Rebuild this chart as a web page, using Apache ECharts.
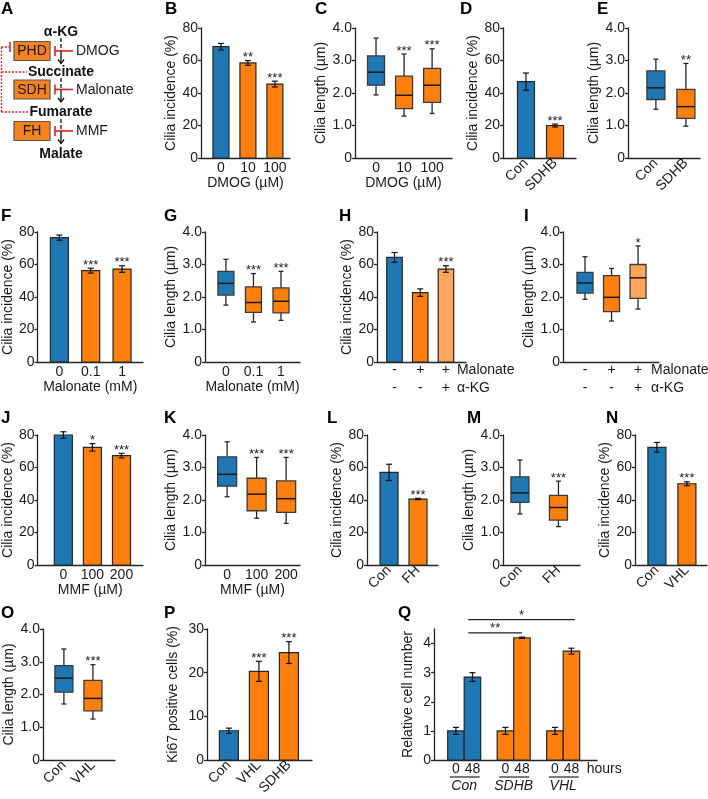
<!DOCTYPE html>
<html><head><meta charset="utf-8">
<script src="https://cdn.jsdelivr.net/npm/echarts@6/dist/echarts.min.js"></script>
<style>html,body{margin:0;padding:0;background:#fff}#c{width:708px;height:799px}</style>
</head><body><div id="c"></div>
<script>
// ---------------- data ----------------
const incidenceTicks = [0, 20, 40, 60, 80];
const lengthTicks = [0, 1, 2, 3, 4];
const ki67Ticks = [0, 10, 20, 30];
const cellTicks = [0, 1, 2, 3, 4];

const dmogDoses = ['0', '10', '100'];
const ciliaIncDMOG = [68.5, 58.5, 45.5];
const ciliaIncDMOGErr = [2.0, 1.5, 1.8];
const ciliaIncDMOGSig = ['', '**', '***'];
const ciliaLenDMOG = [[1.94, 2.24, 2.64, 3.14, 3.69], [1.29, 1.52, 1.93, 2.52, 3.20], [1.37, 1.71, 2.24, 2.76, 3.36]];
const ciliaLenDMOGSig = ['', '***', '***'];

const sdhbGroups = ['Con', 'SDHB'];
const ciliaIncSDHB = [47.0, 20.0];
const ciliaIncSDHBErr = [5.3, 0.9];
const ciliaIncSDHBSig = ['', '***'];
const ciliaLenSDHB = [[1.50, 1.80, 2.16, 2.68, 3.04], [0.98, 1.22, 1.58, 2.11, 2.91]];
const ciliaLenSDHBSig = ['', '**'];

const malonateDoses = ['0', '0.1', '1'];
const ciliaIncMal = [76.5, 56.2, 57.2];
const ciliaIncMalErr = [1.6, 1.5, 2.0];
const ciliaIncMalSig = ['', '***', '***'];
const ciliaLenMal = [[1.75, 2.06, 2.42, 2.79, 3.16], [1.23, 1.53, 1.83, 2.31, 2.72], [1.28, 1.51, 1.87, 2.28, 2.79]];
const ciliaLenMalSig = ['', '***', '***'];

const malonateRow = ['-', '+', '+'];
const akgRow = ['-', '-', '+'];
const ciliaIncRescue = [64.4, 42.7, 57.2];
const ciliaIncRescueErr = [3.0, 2.3, 2.0];
const ciliaIncRescueSig = ['', '', '***'];
const ciliaLenRescue = [[1.93, 2.12, 2.43, 2.76, 3.24], [1.26, 1.55, 1.99, 2.66, 2.88], [1.63, 1.96, 2.59, 3.00, 3.57]];
const ciliaLenRescueSig = ['', '', '*'];

const mmfDoses = ['0', '100', '200'];
const ciliaIncMMF = [80.0, 72.4, 67.3];
const ciliaIncMMFErr = [2.0, 2.3, 1.4];
const ciliaIncMMFSig = ['', '*', '***'];
const ciliaLenMMF = [[2.10, 2.43, 2.79, 3.33, 3.79], [1.44, 1.67, 2.18, 2.67, 3.31], [1.28, 1.62, 2.04, 2.59, 3.31]];
const ciliaLenMMFSig = ['', '***', '***'];

const fhGroups = ['Con', 'FH'];
const ciliaIncFH = [57.0, 40.6];
const ciliaIncFHErr = [5.0, 0.4];
const ciliaIncFHSig = ['', '***'];
const ciliaLenFH = [[1.57, 1.93, 2.22, 2.71, 3.23], [1.18, 1.38, 1.77, 2.14, 2.58]];
const ciliaLenFHSig = ['', '***'];

const vhlGroups = ['Con', 'VHL'];
const ciliaIncVHL = [72.4, 50.0];
const ciliaIncVHLErr = [3.0, 1.2];
const ciliaIncVHLSig = ['', '***'];
const ciliaLenVHL = [[1.71, 2.07, 2.50, 2.88, 3.39], [1.25, 1.50, 1.88, 2.43, 2.91]];
const ciliaLenVHLSig = ['', '***'];

const ki67Groups = ['Con', 'VHL', 'SDHB'];
const ki67Pos = [6.7, 20.3, 24.6];
const ki67Err = [0.6, 2.3, 2.5];
const ki67Sig = ['', '***', '***'];

const cellGroups = ['Con', 'SDHB', 'VHL'];
const cellHours = ['0', '48'];
const cellNum0h = [1.0, 1.0, 1.0];
const cellNum48h = [2.85, 4.2, 3.74];
const cellErr0h = [0.12, 0.12, 0.12];
const cellErr48h = [0.15, 0.02, 0.10];
const cellBrackets = [[0.75, 4.0, 4.37], [0.75, 7.2, 4.82]];
const cellBracketSig = ['**', '*'];

// ---------------- style ----------------
const FONT = 'Liberation Sans, Arial, Helvetica, sans-serif';
const BLUE = '#1f77b4', ORANGE = '#ff7f0e', LIGHT = '#ffa65c';
const AX = '#262626', TXT = '#1a1a1a', EDGE = '#262626', RED = '#e31e24';

// ---------------- layout (pixels) ----------------
const layout = {
  B: {L: 201, R: 290, T: 28, Bt: 158, xMin: -0.74, xMax: 2.56, w: 16, gap: 19, xg: 17},
  C: {L: 355, R: 452, T: 28, Bt: 158, xMin: -0.75, xMax: 2.71, w: 17, gap: 22, xg: 17},
  D: {L: 503, R: 576, T: 28, Bt: 158, xMin: -0.79, xMax: 1.72, w: 17, gap: 19},
  E: {L: 628, R: 700, T: 28, Bt: 158, xMin: -0.93, xMax: 1.47, w: 18, gap: 15},
  F: {L: 37, R: 143, T: 232, Bt: 362, xMin: -0.70, xMax: 2.67, w: 18, gap: 20, xg: 17},
  G: {L: 205, R: 300, T: 232, Bt: 362, xMin: -0.76, xMax: 2.69, w: 16, gap: 25, xg: 17},
  H: {L: 377, R: 466, T: 232, Bt: 362, xMin: -0.68, xMax: 2.78, w: 15.5, gap: 18, xm: 1, tx: 11},
  I: {L: 563, R: 659, T: 232, Bt: 362, xMin: -0.83, xMax: 2.79, w: 16, gap: 23, xm: 1, tx: 13},
  J: {L: 37, R: 143, T: 435, Bt: 565, xMin: -0.89, xMax: 2.74, w: 18, gap: 20, xg: 15},
  K: {L: 205, R: 300, T: 435, Bt: 565, xMin: -0.75, xMax: 2.47, w: 19, gap: 25, xg: 15},
  L: {L: 367, R: 438, T: 435, Bt: 565, xMin: -0.76, xMax: 1.69, w: 18, gap: 20},
  M: {L: 503, R: 580, T: 435, Bt: 565, xMin: -0.44, xMax: 1.56, w: 18, gap: 19},
  N: {L: 635, R: 707, T: 435, Bt: 565, xMin: -0.73, xMax: 1.67, w: 18, gap: 20},
  O: {L: 43, R: 115, T: 629, Bt: 760, xMin: -0.72, xMax: 1.76, w: 18, gap: 26},
  P: {L: 207, R: 312, T: 629, Bt: 760, xMin: -0.73, xMax: 2.77, w: 19, gap: 27},
  Q: {L: 434, R: 597, T: 629, Bt: 760, xMin: -1.33, xMax: 8.55, w: 16.5, gap: 19, xm: 2, yMax: 4.5}
};
const letters = [['A',2,4],['B',166,4],['C',316,4],['D',461,4],['E',598,4],
  ['F',2,211],['G',165,211],['H',340,211],['I',525,211],
  ['J',2,413],['K',165,413],['L',328,413],['M',468,413],['N',607,413],
  ['O',2,608],['P',165,608],['Q',399,608]];

const fmtLen = v => (v === 0 ? '0' : v.toFixed(1));
const fmtInt = v => String(v);
const INC = 'Cilia incidence (%)', LEN = 'Cilia length (\u00b5m)';

const qXs = [], qVals = [], qErrs = [], qCols = [], qLabels = [];
cellGroups.forEach((g, gi) => {
  [cellNum0h[gi], cellNum48h[gi]].forEach((v, t) => {
    qXs.push(gi * 3 + t); qVals.push(v);
    qErrs.push(t === 0 ? cellErr0h[gi] : cellErr48h[gi]);
    qCols.push(gi === 0 ? BLUE : ORANGE); qLabels.push(cellHours[t]);
  });
});

const panels = [
  {id: 'B', kind: 'bar', cats: dmogDoses, vals: ciliaIncDMOG, errs: ciliaIncDMOGErr, sigs: ciliaIncDMOGSig, colors: [BLUE, ORANGE, ORANGE], yTicks: incidenceTicks, yFmt: fmtInt, yName: INC, xName: 'DMOG (\u00b5M)'},
  {id: 'C', kind: 'box', cats: dmogDoses, boxes: ciliaLenDMOG, sigs: ciliaLenDMOGSig, colors: [BLUE, ORANGE, ORANGE], yTicks: lengthTicks, yFmt: fmtLen, yName: LEN, xName: 'DMOG (\u00b5M)'},
  {id: 'D', kind: 'bar', cats: sdhbGroups, vals: ciliaIncSDHB, errs: ciliaIncSDHBErr, sigs: ciliaIncSDHBSig, colors: [BLUE, ORANGE], yTicks: incidenceTicks, yFmt: fmtInt, yName: INC, rot: 45},
  {id: 'E', kind: 'box', cats: sdhbGroups, boxes: ciliaLenSDHB, sigs: ciliaLenSDHBSig, colors: [BLUE, ORANGE], yTicks: lengthTicks, yFmt: fmtLen, yName: LEN, rot: 45},
  {id: 'F', kind: 'bar', cats: malonateDoses, vals: ciliaIncMal, errs: ciliaIncMalErr, sigs: ciliaIncMalSig, colors: [BLUE, ORANGE, ORANGE], yTicks: incidenceTicks, yFmt: fmtInt, yName: INC, xName: 'Malonate (mM)'},
  {id: 'G', kind: 'box', cats: malonateDoses, boxes: ciliaLenMal, sigs: ciliaLenMalSig, colors: [BLUE, ORANGE, ORANGE], yTicks: lengthTicks, yFmt: fmtLen, yName: LEN, xName: 'Malonate (mM)'},
  {id: 'H', kind: 'bar', cats: malonateRow, cats2: akgRow, vals: ciliaIncRescue, errs: ciliaIncRescueErr, sigs: ciliaIncRescueSig, colors: [BLUE, ORANGE, LIGHT], yTicks: incidenceTicks, yFmt: fmtInt, yName: INC},
  {id: 'I', kind: 'box', cats: malonateRow, cats2: akgRow, boxes: ciliaLenRescue, sigs: ciliaLenRescueSig, colors: [BLUE, ORANGE, LIGHT], yTicks: lengthTicks, yFmt: fmtLen, yName: LEN},
  {id: 'J', kind: 'bar', cats: mmfDoses, vals: ciliaIncMMF, errs: ciliaIncMMFErr, sigs: ciliaIncMMFSig, colors: [BLUE, ORANGE, ORANGE], yTicks: incidenceTicks, yFmt: fmtInt, yName: INC, xName: 'MMF (\u00b5M)'},
  {id: 'K', kind: 'box', cats: mmfDoses, boxes: ciliaLenMMF, sigs: ciliaLenMMFSig, colors: [BLUE, ORANGE, ORANGE], yTicks: lengthTicks, yFmt: fmtLen, yName: LEN, xName: 'MMF (\u00b5M)'},
  {id: 'L', kind: 'bar', cats: fhGroups, vals: ciliaIncFH, errs: ciliaIncFHErr, sigs: ciliaIncFHSig, colors: [BLUE, ORANGE], yTicks: incidenceTicks, yFmt: fmtInt, yName: INC, rot: 45},
  {id: 'M', kind: 'box', cats: fhGroups, boxes: ciliaLenFH, sigs: ciliaLenFHSig, colors: [BLUE, ORANGE], yTicks: lengthTicks, yFmt: fmtLen, yName: LEN, rot: 45},
  {id: 'N', kind: 'bar', cats: vhlGroups, vals: ciliaIncVHL, errs: ciliaIncVHLErr, sigs: ciliaIncVHLSig, colors: [BLUE, ORANGE], yTicks: incidenceTicks, yFmt: fmtInt, yName: INC, rot: 45},
  {id: 'O', kind: 'box', cats: vhlGroups, boxes: ciliaLenVHL, sigs: ciliaLenVHLSig, colors: [BLUE, ORANGE], yTicks: lengthTicks, yFmt: fmtLen, yName: LEN, rot: 45},
  {id: 'P', kind: 'bar', cats: ki67Groups, vals: ki67Pos, errs: ki67Err, sigs: ki67Sig, colors: [BLUE, ORANGE, ORANGE], yTicks: ki67Ticks, yFmt: fmtInt, yName: 'Ki67 positive cells (%)', rot: 45},
  {id: 'Q', kind: 'bar', cats: qLabels, xs: qXs, vals: qVals, errs: qErrs, sigs: null, colors: qCols, yTicks: cellTicks, yFmt: fmtInt, yName: 'Relative cell number'}
];

// ---------------- helpers ----------------
function ln(x1, y1, x2, y2, stroke, w, dash) {
  const s = {stroke: stroke, lineWidth: w};
  if (dash) s.lineDash = dash;
  return {type: 'line', shape: {x1, y1, x2, y2}, style: s};
}
function tx(t, x, y, o) {
  return {type: 'text', style: Object.assign({text: t, x: x, y: y, fill: TXT, fontSize: 14, fontFamily: FONT,
    align: 'left', verticalAlign: 'middle', textAlign: 'left', textVerticalAlign: 'middle'}, o || {})};
}
function star(t, x, y) {
  return tx(t, x, y, {fontSize: 13, align: 'center', textAlign: 'center', fill: '#222'});
}
function barRender(p, bw) {
  return function (params, api) {
    const i = params.dataIndex;
    const x = api.value(0), v = api.value(1), e = api.value(2);
    const base = api.coord([x, 0]), top = api.coord([x, v]);
    const ch = [{type: 'rect', shape: {x: base[0] - bw / 2, y: top[1], width: bw, height: base[1] - top[1]},
      style: {fill: p.colors[i], stroke: EDGE, lineWidth: 1.2}}];
    let yTop = top[1];
    if (e > 0) {
      const a = api.coord([x, v + e]), b = api.coord([x, v - e]);
      ch.push(ln(a[0], a[1], b[0], b[1], '#111', 1.2));
      ch.push(ln(a[0] - 3, a[1], a[0] + 3, a[1], '#111', 1.2));
      ch.push(ln(b[0] - 3, b[1], b[0] + 3, b[1], '#111', 1.2));
      yTop = a[1];
    }
    if (p.sigs && p.sigs[i]) ch.push(star(p.sigs[i], top[0], yTop - 3));
    return {type: 'group', children: ch};
  };
}
function boxRender(p, bw) {
  return function (params, api) {
    const i = params.dataIndex;
    const x = api.value(0);
    const lo = api.coord([x, api.value(1)]), q1 = api.coord([x, api.value(2)]), md = api.coord([x, api.value(3)]),
      q3 = api.coord([x, api.value(4)]), hi = api.coord([x, api.value(5)]);
    const cx = lo[0], h = bw / 2, c = 2.5;
    const ch = [
      ln(cx, hi[1], cx, q3[1], EDGE, 1.3), ln(cx, q1[1], cx, lo[1], EDGE, 1.3),
      ln(cx - c, hi[1], cx + c, hi[1], EDGE, 1.3), ln(cx - c, lo[1], cx + c, lo[1], EDGE, 1.3),
      {type: 'rect', shape: {x: cx - h, y: q3[1], width: bw, height: q1[1] - q3[1]}, style: {fill: p.colors[i], stroke: '#3a3a3a', lineWidth: 1.3}},
      ln(cx - h, md[1], cx + h, md[1], '#1a1a1a', 1.5)
    ];
    if (p.sigs && p.sigs[i]) ch.push(star(p.sigs[i], cx, hi[1] - 3));
    return {type: 'group', children: ch};
  };
}
function labelFor(xs, labs) {
  return function (v) {
    for (let k = 0; k < xs.length; k++) if (Math.abs(xs[k] - v) < 1e-6) return labs[k];
    return '';
  };
}

// ---------------- build option ----------------
const grids = [], xAxes = [], yAxes = [], series = [];
const textStyle = {fontSize: 14, color: TXT, fontFamily: FONT};
panels.forEach((p, gi) => {
  const g = layout[p.id];
  const xs = p.xs || p.cats.map((_, i) => i);
  grids.push({left: g.L, top: g.T, width: g.R - g.L, height: g.Bt - g.T, containLabel: false});
  const xi = xAxes.length;   // main x axis index of this panel
  xAxes.push({type: 'value', gridIndex: gi, min: g.xMin, max: g.xMax,
    axisLine: {show: true, onZero: false, lineStyle: {color: AX, width: 1.3}},
    axisTick: {show: false}, splitLine: {show: false},
    axisLabel: Object.assign({customValues: xs, formatter: labelFor(xs, p.cats), margin: g.xm !== undefined ? g.xm : 3, rotate: p.rot || 0}, textStyle),
    name: p.xName || '', nameLocation: 'middle', nameGap: g.xg || 17, nameTextStyle: textStyle});
  const yt = p.yTicks;
  yAxes.push({type: 'value', gridIndex: gi, min: yt[0], max: g.yMax || yt[yt.length - 1],
    axisLine: {show: true, onZero: false, lineStyle: {color: AX, width: 1.3}},
    axisTick: {show: true, length: 3, customValues: yt, lineStyle: {color: AX, width: 1.3}},
    splitLine: {show: false},
    axisLabel: Object.assign({customValues: yt, formatter: p.yFmt, margin: 3}, textStyle),
    name: p.yName, nameLocation: 'middle', nameGap: g.gap, nameTextStyle: textStyle});
  const ax = {xAxisIndex: xi, yAxisIndex: gi};
  if (p.kind === 'bar') {
    series.push(Object.assign({type: 'custom', renderItem: barRender(p, g.w),
      data: p.vals.map((v, i) => [xs[i], v, p.errs[i]])}, ax));
  } else {
    series.push(Object.assign({type: 'custom', renderItem: boxRender(p, g.w),
      data: p.boxes.map((b, i) => [xs[i]].concat(b))}, ax));
  }
  if (p.cats2) {
    xAxes.push({type: 'value', gridIndex: gi, min: g.xMin, max: g.xMax, position: 'bottom', offset: 18,
      axisLine: {show: false}, axisTick: {show: false}, splitLine: {show: false},
      axisLabel: Object.assign({customValues: xs, formatter: labelFor(xs, p.cats2), margin: 1}, textStyle)});
    // treatment names to the right of the last column
    series.push(Object.assign({type: 'custom', data: [[xs[xs.length - 1], 0]],
      renderItem: function (params, api) {
        const pt = api.coord([api.value(0), api.value(1)]);
        return {type: 'group', children: [tx('Malonate', pt[0] + g.tx, pt[1] + 8.5), tx('\u03b1-KG', pt[0] + g.tx, pt[1] + 26)]};
      }}, ax));
  }
  if (p.id === 'Q') {
    const centers = cellGroups.map((_, k) => k * 3 + 0.5);
    xAxes.push({type: 'value', gridIndex: gi, min: g.xMin, max: g.xMax, position: 'bottom', offset: 16,
      axisLine: {show: false}, axisTick: {show: false}, splitLine: {show: false},
      axisLabel: Object.assign({customValues: centers, formatter: labelFor(centers, cellGroups), margin: 3, fontStyle: 'italic'}, textStyle)});
    series.push(Object.assign({type: 'custom',
      data: cellGroups.map((_, k) => [k * 3, k * 3 + 1]),
      renderItem: function (params, api) {
        const a = api.coord([api.value(0), 0]), b = api.coord([api.value(1), 0]);
        const ch = [ln(a[0] - g.w / 2 + 2, a[1] + 17, b[0] + g.w / 2 - 1, a[1] + 17, '#222', 1.2)];
        if (params.dataIndex === cellGroups.length - 1) ch.push(tx('hours', b[0] + g.w / 2 + 7, a[1] + 9.5));
        return {type: 'group', children: ch};
      }}, ax));
    series.push(Object.assign({type: 'custom',
      data: cellBrackets,
      renderItem: function (params, api) {
        const a = api.coord([api.value(0), api.value(2)]), b = api.coord([api.value(1), api.value(2)]);
        return {type: 'group', children: [ln(a[0], a[1], b[0], a[1], '#222', 1.2),
          star(cellBracketSig[params.dataIndex], (a[0] + b[0]) / 2, a[1] - 4)]};
      }}, ax));
  }
});

// ---------------- panel A diagram + panel letters ----------------
const gr = [];
letters.forEach(l => gr.push(tx(l[0], l[1] - 1, l[2] - 3, {fontSize: 17, fontWeight: 'bold', fill: '#000', verticalAlign: 'top', textVerticalAlign: 'top'})));
const boldC = {fontWeight: 'bold', align: 'center', textAlign: 'center', fill: '#111'};
gr.push(tx('\u03b1-KG', 61, 32, boldC));
gr.push(tx('Succinate', 61, 72, boldC));
gr.push(tx('Fumarate', 61, 112, boldC));
gr.push(tx('Malate', 61, 154, boldC));
function arrow(x, y1, ym, y2) {
  gr.push(ln(x, y1, x, ym, '#111', 1.3, [4, 2]));
  gr.push(ln(x, ym, x, y2, '#111', 1.3));
  gr.push({type: 'polyline', shape: {points: [[x - 3, y2 - 4], [x, y2], [x + 3, y2 - 4]]}, style: {stroke: '#111', lineWidth: 1.3, fill: null}});
}
arrow(61, 38, 52, 63.5);
arrow(61, 78, 90, 102);
arrow(61, 119, 130, 143.5);
function enzyme(name, y, drug) {
  gr.push({type: 'rect', shape: {x: 14, y: y - 9.5, width: 36, height: 19}, style: {fill: '#f58220', stroke: '#555', lineWidth: 1.2}});
  gr.push(tx(name, 32, y + 0.5, {align: 'center', textAlign: 'center'}));
  gr.push(ln(55, y, 73, y, RED, 1.6));
  gr.push(ln(55, y - 5, 55, y + 5, RED, 1.6));
  gr.push(tx(drug, 76, y + 0.5));
}
enzyme('PHD', 51, 'DMOG');
enzyme('SDH', 89.5, 'Malonate');
enzyme('FH', 131, 'MMF');
gr.push(ln(10, 42, 10, 52, RED, 1.6));
gr.push(ln(1.5, 47, 10, 47, RED, 1.3, [2, 1.5]));
gr.push(ln(1.5, 47, 1.5, 112, RED, 1.3, [2, 1.5]));
gr.push(ln(1.5, 72, 27, 72, RED, 1.3, [2, 1.5]));
gr.push(ln(1.5, 112, 29, 112, RED, 1.3, [2, 1.5]));

const chart = echarts.init(document.getElementById('c'), null, {renderer: 'canvas'});
chart.setOption({
  animation: false,
  backgroundColor: '#fff',
  textStyle: {fontFamily: FONT},
  grid: grids, xAxis: xAxes, yAxis: yAxes, series: series,
  graphic: {elements: gr}
});
</script></body></html>
